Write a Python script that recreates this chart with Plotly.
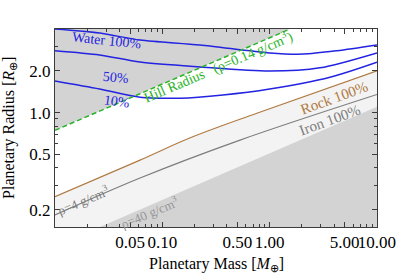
import numpy as np
import plotly.graph_objects as go

# ---- data ----
x_range = [0.01, 10.0]
y_range = [0.15, 4.0]

water100_m = [0.01, 0.026, 0.062, 0.224, 1.0, 2.05, 4.24, 10.0]
water100_r = [4.0, 3.74, 3.33, 3.07, 2.69, 2.64, 2.79, 3.07]

water50_m = [0.01, 0.026, 0.062, 0.224, 1.0, 2.94, 10.0]
water50_r = [2.79, 2.60, 2.31, 2.13, 1.99, 2.10, 2.69]

water10_m = [0.01, 0.026, 0.062, 0.146, 0.367, 1.0, 3.65, 10.0]
water10_r = [1.69, 1.48, 1.29, 1.27, 1.34, 1.48, 1.80, 2.31]

hill_m = [0.01, 1.55]
hill_r = [0.745, 4.0]

rock_m = [0.01, 0.062, 0.18, 0.76, 10.0]
rock_r = [0.248, 0.455, 0.656, 0.99, 2.0]

iron_m = [0.01, 0.062, 0.53, 10.0]
iron_r = [0.183, 0.338, 0.634, 1.35]

rho40_m = [0.0262, 10.0]
rho40_r = [0.15, 1.10]

x_major = [0.05, 0.1, 0.5, 1.0, 5.0, 10.0]
x_major_text = ["0.05", "0.10", "0.50", "1.00", "5.00", "10.00"]
x_minor = [0.02, 0.03, 0.04, 0.06, 0.07, 0.08, 0.09, 0.2, 0.3, 0.4,
           0.6, 0.7, 0.8, 0.9, 2, 3, 4, 6, 7, 8, 9]
y_major = [0.2, 0.5, 1.0, 2.0]
y_major_text = ["0.2", "0.5", "1.0", "2.0"]
y_minor = [0.3, 0.4, 0.6, 0.7, 0.8, 0.9, 3.0]

FONT = "Liberation Serif"
DARK = "rgb(211,211,211)"
LIGHT = "rgb(243,243,243)"
BLUE = "rgb(35,35,225)"
GREEN = "rgb(40,180,40)"
BROWN = "rgb(176,122,66)"
GRAY = "rgb(125,125,125)"
FRAME = "rgb(60,60,60)"

fig = go.Figure()

# shaded regions
fig.add_trace(go.Scatter(x=hill_m + [x_range[0]], y=hill_r + [y_range[1]],
                         fill="toself", fillcolor=DARK, mode="none",
                         showlegend=False, hoverinfo="skip"))
fig.add_trace(go.Scatter(x=rock_m + [x_range[1], x_range[0]],
                         y=rock_r + [y_range[0], y_range[0]],
                         fill="toself", fillcolor=LIGHT, mode="none",
                         showlegend=False, hoverinfo="skip"))
fig.add_trace(go.Scatter(x=rho40_m + [x_range[1]], y=rho40_r + [y_range[0]],
                         fill="toself", fillcolor=DARK, mode="none",
                         showlegend=False, hoverinfo="skip"))

# lines
for m, r in [(water100_m, water100_r), (water50_m, water50_r), (water10_m, water10_r)]:
    fig.add_trace(go.Scatter(x=m, y=r, mode="lines",
                             line=dict(color=BLUE, width=1.5, shape="spline", smoothing=0.8),
                             showlegend=False, hoverinfo="skip"))
fig.add_trace(go.Scatter(x=hill_m, y=hill_r, mode="lines",
                         line=dict(color=GREEN, width=1.5, dash="5px,3px"),
                         showlegend=False, hoverinfo="skip"))
fig.add_trace(go.Scatter(x=rock_m, y=rock_r, mode="lines",
                         line=dict(color=BROWN, width=1.2, shape="spline"),
                         showlegend=False, hoverinfo="skip"))
fig.add_trace(go.Scatter(x=iron_m, y=iron_r, mode="lines",
                         line=dict(color=GRAY, width=1.2, shape="spline"),
                         showlegend=False, hoverinfo="skip"))

def ann(text, lm, lr, color, angle, size=14):
    fig.add_annotation(x=lm, y=lr, xref="x", yref="y", text=text, showarrow=False,
                       textangle=angle, font=dict(family=FONT, size=size, color=color))

ann("Water 100%", -1.516, 0.517, BLUE, 6)
ann("50%", -1.432, 0.256, BLUE, 5)
ann("10%", -1.422, 0.083, BLUE, 8)
ann("Hill Radius   (ρ=0.14 g/cm<sup>3</sup>)", -0.481, 0.335, GREEN, -23)
ann("Rock 100%", 0.599, 0.105, BROWN, -20, 15)
ann("Iron 100%", 0.562, -0.054, GRAY, -20, 15)
ann("ρ=4 g/cm<sup>3</sup>", -1.739, -0.63, GRAY, -23, 13)
ann("ρ=40 g/cm<sup>3</sup>", -1.115, -0.716, "rgb(150,150,150)", -23, 13)

# axis titles
fig.add_annotation(x=0.5, y=-0.19, xref="paper", yref="paper", xanchor="center", yanchor="middle",
                   text="Planetary Mass [<i>M</i><sub>⊕</sub>]", showarrow=False,
                   font=dict(family=FONT, size=16, color="black"))
fig.add_annotation(x=-0.143, y=0.5, xref="paper", yref="paper", xanchor="center", yanchor="middle",
                   text="Planetary Radius [<i>R</i><sub>⊕</sub>]", showarrow=False, textangle=-90,
                   font=dict(family=FONT, size=16, color="black"))

axis_common = dict(type="log", showgrid=False, zeroline=False, showline=True,
                   linecolor=FRAME, linewidth=1, mirror="allticks", automargin=False,
                   ticks="inside", ticklen=5, tickcolor=FRAME, tickangle=0,
                   tickfont=dict(family=FONT, size=17, color="black"))

fig.update_xaxes(range=[np.log10(x_range[0]), np.log10(x_range[1]) + 0.0005],
                 tickvals=x_major, ticktext=x_major_text,
                 minor=dict(tickvals=x_minor, ticks="inside", ticklen=3, tickcolor=FRAME),
                 **axis_common)
fig.update_yaxes(range=[np.log10(y_range[0]), np.log10(y_range[1])],
                 tickvals=y_major, ticktext=y_major_text,
                 minor=dict(tickvals=y_minor, ticks="inside", ticklen=3, tickcolor=FRAME),
                 **axis_common)

fig.update_layout(width=407, height=279, margin=dict(l=55, r=30, t=29, b=52),
                  plot_bgcolor="white", paper_bgcolor="white", showlegend=False)

fig.write_html("out.html", config={"displayModeBar": False},
               post_script="document.body.style.margin='0';document.body.style.overflow='hidden';")
